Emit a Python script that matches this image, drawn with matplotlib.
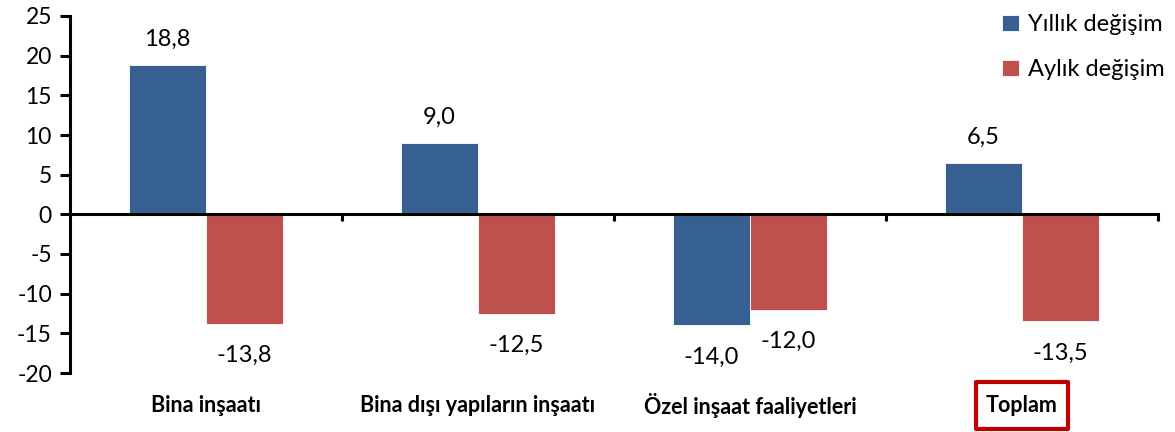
import numpy as np
import matplotlib.pyplot as plt
from matplotlib.patches import Rectangle
import matplotlib.transforms as mtransforms

plt.rcParams['font.family'] = ['Lato', 'DejaVu Sans']
plt.rcParams['axes.unicode_minus'] = False

# veriler
categories = ["Bina inşaatı", "Bina dışı yapıların inşaatı", "Özel inşaat faaliyetleri", "Toplam"]
yillik = [18.8, 9.0, -14.0, 6.5]
aylik = [-13.8, -12.5, -12.0, -13.5]
series_names = ["Yıllık değişim", "Aylık değişim"]
yticks = [-20, -15, -10, -5, 0, 5, 10, 15, 20, 25]

blue = "#366092"
red = "#C0504D"

fig = plt.figure(figsize=(11.75, 4.32), dpi=100)
ax = fig.add_axes([70/1175, 1-373/432, (1158-70)/1175, (373-16)/432])

x = np.arange(len(categories)) + 0.5
w = 0.283
b1 = ax.bar(x - w/2, yillik, w, color=blue, edgecolor="white", linewidth=0.6, label=series_names[0])
b2 = ax.bar(x + w/2, aylik, w, color=red, edgecolor="white", linewidth=0.6, label=series_names[1])

# deger etiketleri
for bars in (b1, b2):
    for r in bars:
        v = r.get_height()
        cx = r.get_x() + r.get_width()/2
        txt = ("%.1f" % v).replace(".", ",")
        off = 18.5 if v >= 0 else -23
        ax.annotate(txt, (cx, v), xytext=(0, off), textcoords="offset points",
                    ha="center", va="center", fontsize=17)

ax.set_xlim(0, len(categories))
ax.set_ylim(-20, 25)
ax.set_yticks(yticks)
ax.tick_params(axis="y", labelsize=16.5, length=7, width=2.2, direction="out", pad=6)
ax.set_xticks(np.arange(1, len(categories) + 1))
ax.tick_params(axis="x", length=5, width=2.2, direction="out", labelbottom=False)

for s in ["top", "right"]:
    ax.spines[s].set_visible(False)
ax.spines["bottom"].set_position(("data", 0))
ax.spines["bottom"].set_linewidth(2.2)
ax.spines["left"].set_linewidth(2.2)

# kategori etiketleri
trans = mtransforms.blended_transform_factory(ax.transData, fig.transFigure)
for i, c in enumerate(categories):
    ax.text(x[i], 1-405/432, c, transform=trans, ha="center", va="center",
            fontsize=15.5, fontweight="bold")
    if c == "Toplam":
        bw = 0.335
        box = Rectangle((x[i] - bw/2, 1-428.5/432), bw, 47/432, transform=trans,
                        facecolor="none", edgecolor="#C00000", linewidth=3.0,
                        joinstyle="round", clip_on=False)
        ax.add_patch(box)

leg = fig.legend(handles=[b1, b2], loc="upper left", bbox_to_anchor=(993/1175, 1-5/432),
                 frameon=False, fontsize=17, handlelength=0.7, handleheight=0.7,
                 handletextpad=0.4, labelspacing=1.0, borderaxespad=0)

fig.savefig("out.png", dpi=100)
